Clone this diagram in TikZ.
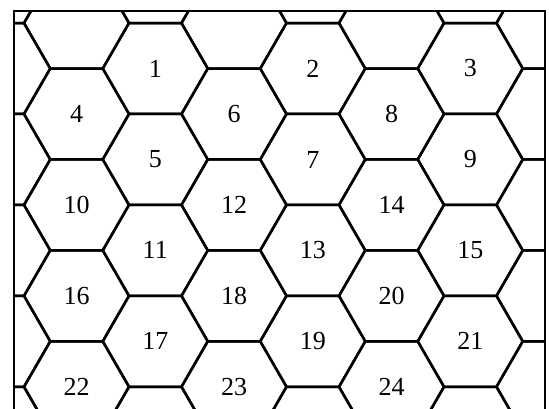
\documentclass[tikz,border=0pt]{standalone}
\usepackage{fontspec}
\setmainfont{Liberation Serif}
\begin{document}
\begin{tikzpicture}[x=1pt,y=-1pt,
  hexline/.style={line width=2.5pt, line join=round},
  frameline/.style={line width=2.5pt},
  lab/.style={font=\fontsize{26}{26}\selectfont, inner sep=0pt}]
\useasboundingbox (0,0) rectangle (549,408);
\begin{scope}
  \clip (14,11) rectangle (545,420);
  \foreach \c in {-1,...,7}{
    \pgfmathsetmacro\cx{76.5+78.75*\c}
    \pgfmathsetmacro\cy{ifthenelse(mod(\c+2,2)==1,68.5,114)}
    \foreach \k in {-1,...,5}{
      \draw[hexline] ({\cx+52.5},{\cy+90.93*\k}) -- ++(-26.25,45.47) -- ++(-52.5,0)
        -- ++(-26.25,-45.47) -- ++(26.25,-45.47) -- ++(52.5,0) -- cycle;
    }
  }
\end{scope}
\coordinate (fbl) at (14,420);
\coordinate (ftl) at (14,11);
\coordinate (ftr) at (545,11);
\coordinate (fbr) at (545,420);
\draw[frameline] (fbl) -- (ftl) -- (ftr) -- (fbr);
% labels
\node[lab] (h1) at (155.25,68.5) {1};
\node[lab] (h2) at (312.75,68.5) {2};
\node[lab] (h3) at (470.25,68.5) {3};
\node[lab] (h4) at (76.5,114) {4};
\node[lab] (h5) at (155.25,159.5) {5};
\node[lab] (h6) at (234,114) {6};
\node[lab] (h7) at (312.75,159.5) {7};
\node[lab] (h8) at (391.5,114) {8};
\node[lab] (h9) at (470.25,159.5) {9};
\node[lab] (h10) at (76.5,205) {10};
\node[lab] (h11) at (155.25,250.4) {11};
\node[lab] (h12) at (234,205) {12};
\node[lab] (h13) at (312.75,250.4) {13};
\node[lab] (h14) at (391.5,205) {14};
\node[lab] (h15) at (470.25,250.4) {15};
\node[lab] (h16) at (76.5,295.9) {16};
\node[lab] (h17) at (155.25,341.3) {17};
\node[lab] (h18) at (234,295.9) {18};
\node[lab] (h19) at (312.75,341.3) {19};
\node[lab] (h20) at (391.5,295.9) {20};
\node[lab] (h21) at (470.25,341.3) {21};
\node[lab] (h22) at (76.5,386.8) {22};
\node[lab] (h23) at (234,386.8) {23};
\node[lab] (h24) at (391.5,386.8) {24};
\end{tikzpicture}
\end{document}
